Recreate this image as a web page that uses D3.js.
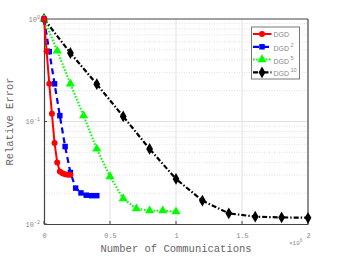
<!DOCTYPE html>
<html>
<head>
<meta charset="utf-8">
<script src="https://cdn.jsdelivr.net/npm/d3@7"></script>
<style>
body { margin: 0; background: #fff; }
svg { display: block; }
</style>
</head>
<body>
<svg id="chart"></svg>
<script>
// data, x in units of 10^6 communications
var xDGD = [0, 0.02, 0.04, 0.06, 0.08, 0.10, 0.12, 0.14, 0.16, 0.18, 0.20];
var yDGD = [1, 0.484, 0.233, 0.119, 0.0617, 0.0399, 0.0326, 0.0313, 0.0306, 0.0303, 0.0303];
var xDGD2 = [0, 0.04, 0.08, 0.12, 0.16, 0.20, 0.24, 0.28, 0.32, 0.36, 0.40];
var yDGD2 = [1, 0.481, 0.233, 0.114, 0.057, 0.0318, 0.0224, 0.0201, 0.0191, 0.0189, 0.0189];
var xDGD5 = [0, 0.1, 0.2, 0.3, 0.4, 0.5, 0.6, 0.7, 0.8, 0.9, 1.0];
var yDGD5 = [1, 0.488, 0.233, 0.114, 0.054, 0.029, 0.0177, 0.0141, 0.0135, 0.0135, 0.0132];
var xDGD10 = [0, 0.2, 0.4, 0.6, 0.8, 1.0, 1.2, 1.4, 1.6, 1.8, 2.0];
var yDGD10 = [1, 0.466, 0.231, 0.112, 0.054, 0.0275, 0.0169, 0.0127, 0.0118, 0.0116, 0.0115];

var xTicks = [0, 0.5, 1, 1.5, 2];
var xTickLabels = ["0", "0.5", "1", "1.5", "2"];
var yTicks = [1, 0.1, 0.01];
var yTickExp = ["0", "-1", "-2"];

var svgWidth = 341, svgHeight = 256;
var pLeft = 44, pRight = 308, pTop = 19, pBottom = 224;

var svg = d3.select("#chart")
    .attr("width", svgWidth)
    .attr("height", svgHeight);

var xScale = d3.scaleLinear().domain([0, 2]).range([pLeft, pRight]);
var yScale = d3.scaleLog().domain([0.01, 1]).range([pBottom, pTop]);

// grid
var minor = [];
[0.01, 0.1].forEach(function(d) {
    for (var k = 2; k <= 9; k++) minor.push(d * k);
});
svg.append("g").selectAll("line")
    .data(minor)
    .enter()
    .append("line")
    .attr("x1", pLeft).attr("x2", pRight)
    .attr("y1", function(d) { return yScale(d); })
    .attr("y2", function(d) { return yScale(d); })
    .attr("stroke", "#d8d8d8")
    .attr("stroke-width", 0.8)
    .attr("stroke-dasharray", "1,1.5");

svg.append("g").selectAll("line")
    .data([0.1])
    .enter()
    .append("line")
    .attr("x1", pLeft).attr("x2", pRight)
    .attr("y1", function(d) { return yScale(d); })
    .attr("y2", function(d) { return yScale(d); })
    .attr("stroke", "#e2e2e2")
    .attr("stroke-width", 1);

svg.append("g").selectAll("line")
    .data([0.5, 1, 1.5])
    .enter()
    .append("line")
    .attr("x1", function(d) { return xScale(d); })
    .attr("x2", function(d) { return xScale(d); })
    .attr("y1", pTop).attr("y2", pBottom)
    .attr("stroke", "#e2e2e2")
    .attr("stroke-width", 1);

// axes
var xAxis = d3.axisBottom(xScale)
    .tickValues(xTicks)
    .tickSize(0)
    .tickPadding(9)
    .tickFormat(function(d, i) { return xTickLabels[i]; });
var gx = svg.append("g")
    .attr("transform", "translate(0," + pBottom + ")")
    .call(xAxis);

var yAxis = d3.axisLeft(yScale)
    .tickValues(yTicks)
    .tickSize(0)
    .tickFormat("");
var gy = svg.append("g")
    .attr("transform", "translate(" + pLeft + ",0)")
    .call(yAxis);

[gx, gy].forEach(function(g) {
    g.select(".domain").attr("stroke", "#444").attr("stroke-width", 1.2);
    g.selectAll("text")
        .attr("fill", "#888")
        .style("font-family", "Liberation Mono, monospace")
        .style("font-size", "7px");
});

// ticks inside
svg.append("g").selectAll("line")
    .data(xTicks)
    .enter()
    .append("line")
    .attr("x1", function(d) { return xScale(d); })
    .attr("x2", function(d) { return xScale(d); })
    .attr("y1", pBottom).attr("y2", pBottom - 3)
    .attr("stroke", "#444");
svg.append("g").selectAll("line")
    .data(yTicks)
    .enter()
    .append("line")
    .attr("x1", pLeft).attr("x2", pLeft + 3)
    .attr("y1", function(d) { return yScale(d); })
    .attr("y2", function(d) { return yScale(d); })
    .attr("stroke", "#444");

// y tick labels 10^n
var ylab = svg.append("g").selectAll("text")
    .data(yTicks)
    .enter()
    .append("text")
    .attr("x", pLeft - 4)
    .attr("y", function(d) { return yScale(d) + 2.5; })
    .attr("text-anchor", "end")
    .attr("fill", "#888")
    .style("font-family", "Liberation Mono, monospace")
    .style("font-size", "7px");
ylab.append("tspan").text("10");
ylab.append("tspan")
    .attr("dy", -3)
    .style("font-size", "5px")
    .text(function(d, i) { return yTickExp[i]; });

// box top and right
svg.append("line")
    .attr("x1", pLeft).attr("x2", pRight)
    .attr("y1", pTop).attr("y2", pTop)
    .attr("stroke", "#444").attr("stroke-width", 1.2);
svg.append("line")
    .attr("x1", pRight).attr("x2", pRight)
    .attr("y1", pTop).attr("y2", pBottom)
    .attr("stroke", "#444").attr("stroke-width", 1.2);

// axis labels
svg.append("text")
    .attr("x", 176)
    .attr("y", 252)
    .attr("text-anchor", "middle")
    .attr("fill", "#666")
    .style("font-family", "Liberation Mono, monospace")
    .style("font-size", "10.5px")
    .text("Number of Communications");

var xm = svg.append("text")
    .attr("x", 289)
    .attr("y", 245)
    .attr("fill", "#888")
    .style("font-family", "Liberation Mono, monospace")
    .style("font-size", "6px");
xm.append("tspan").text("\u00d710");
xm.append("tspan").attr("dy", -3).style("font-size", "4.5px").text("6");

svg.append("text")
    .attr("transform", "translate(13," + ((pTop + pBottom) / 2) + ") rotate(-90)")
    .attr("text-anchor", "middle")
    .attr("fill", "#666")
    .style("font-family", "Liberation Mono, monospace")
    .style("font-size", "10.5px")
    .text("Relative Error");

// series
var series = [
    { name: "DGD", sup: "", xs: xDGD, ys: yDGD, color: "#ff0000", dash: null, width: 2, marker: d3.symbolCircle, size: 28 },
    { name: "DGD", sup: "2", xs: xDGD2, ys: yDGD2, color: "#0000ff", dash: "6,4", width: 2.2, marker: d3.symbolSquare, size: 30 },
    { name: "DGD", sup: "5", xs: xDGD5, ys: yDGD5, color: "#00ff00", dash: "1.6,1.6", width: 2, marker: d3.symbolTriangle, size: 36 },
    { name: "DGD", sup: "10", xs: xDGD10, ys: yDGD10, color: "#000000", dash: "5,2,1.5,2", width: 2.2, marker: d3.symbolDiamond, size: 40 }
];

var line = d3.line()
    .x(function(d) { return xScale(d[0]); })
    .y(function(d) { return yScale(d[1]); });

series.slice().reverse().forEach(function(s) {
    var pts = s.xs.map(function(x, i) { return [x, s.ys[i]]; });
    svg.append("path")
        .datum(pts)
        .attr("d", line)
        .attr("fill", "none")
        .attr("stroke", s.color)
        .attr("stroke-width", s.width)
        .attr("stroke-dasharray", s.dash);
    svg.append("g").selectAll("path")
        .data(pts)
        .enter()
        .append("path")
        .attr("d", d3.symbol().type(s.marker).size(s.size))
        .attr("transform", function(d) {
            return "translate(" + xScale(d[0]) + "," + yScale(d[1]) + ")";
        })
        .attr("fill", s.color);
});

// legend
var lg = svg.append("g");
lg.append("rect")
    .attr("x", 251.5).attr("y", 27)
    .attr("width", 48).attr("height", 52)
    .attr("fill", "#fff")
    .attr("stroke", "#777")
    .attr("stroke-width", 1);

var items = lg.selectAll("g.item")
    .data(series)
    .enter()
    .append("g")
    .attr("transform", function(d, i) { return "translate(0," + (34 + i * 12.8) + ")"; });
items.append("line")
    .attr("x1", 253).attr("x2", 271.5)
    .attr("y1", 0).attr("y2", 0)
    .attr("stroke", function(d) { return d.color; })
    .attr("stroke-width", function(d) { return d.width; })
    .attr("stroke-dasharray", function(d) { return d.dash; });
items.append("path")
    .attr("d", function(d) { return d3.symbol().type(d.marker).size(d.size)(); })
    .attr("transform", "translate(262,0)")
    .attr("fill", function(d) { return d.color; });
var lt = items.append("text")
    .attr("x", 273.5)
    .attr("y", function(d) { return d.sup ? 4 : 2.5; })
    .attr("fill", "#888")
    .style("font-family", "Liberation Sans, sans-serif")
    .style("font-size", "7px");
lt.append("tspan").text(function(d) { return d.name; });
lt.append("tspan")
    .attr("dx", 1.5)
    .attr("dy", -4)
    .style("font-size", "5.5px")
    .text(function(d) { return d.sup; });
</script>
</body>
</html>
